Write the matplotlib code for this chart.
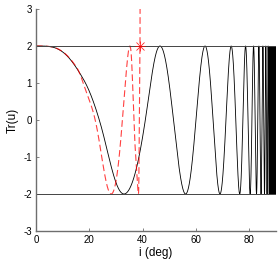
import numpy as np
import matplotlib
matplotlib.use("Agg")
import matplotlib.pyplot as plt

plt.rcParams['font.family'] = ['Liberation Sans', 'DejaVu Sans']
plt.rcParams['axes.unicode_minus'] = False

# black curve: angle (deg) where phase = n*pi
black_i = [0, 17.6, 24.0, 33.0, 41.0, 46.5, 56.1, 63.4, 69.0, 73.2, 76.4, 78.6, 80.3,
           81.6, 82.7, 83.6, 84.4, 85.1, 85.7, 86.2, 86.65, 87.05, 87.4]
black_n = [0, 0.31, 0.51, 1, 1.5, 2, 3, 4, 5, 6, 7, 8, 9,
           10, 11, 12, 13, 14, 15, 16, 17, 18, 19]
# region near 90 deg where the oscillation is a solid black band
dense_i = [87.4, 90.0]

# red dashed curve, same idea, ends at the marked angle then shoots up
red_i = [0, 15.3, 18.4, 22.2, 28.2, 32.4, 35.2, 36.7, 38.4, 38.75, 39.0]
red_n = [0, 0.25, 0.36, 0.5, 1, 1.5, 2, 2.5, 3, 3.5, 4]
red_tail_i = [39.0, 39.05]
red_tail_tr = [2.0, 3.5]

star_i = 39.0
star_tr = 2.0
levels = [2, -2]


def pchip(xk, yk, x):
    xk = np.asarray(xk, float)
    yk = np.asarray(yk, float)
    h = np.diff(xk)
    dl = np.diff(yk) / h
    d = np.zeros_like(yk)
    for k in range(1, len(xk) - 1):
        if dl[k - 1] * dl[k] > 0:
            w1 = 2 * h[k] + h[k - 1]
            w2 = h[k] + 2 * h[k - 1]
            d[k] = (w1 + w2) / (w1 / dl[k - 1] + w2 / dl[k])
    d[0] = 0.0
    d[-1] = dl[-1]
    idx = np.clip(np.searchsorted(xk, x) - 1, 0, len(h) - 1)
    t = (x - xk[idx]) / h[idx]
    h00 = 2 * t**3 - 3 * t**2 + 1
    h10 = t**3 - 2 * t**2 + t
    h01 = -2 * t**3 + 3 * t**2
    h11 = t**3 - t**2
    return (h00 * yk[idx] + h10 * h[idx] * d[idx] +
            h01 * yk[idx + 1] + h11 * h[idx] * d[idx + 1])


fig = plt.figure(figsize=(2.8, 2.61), dpi=100)
ax = fig.add_axes([0.1286, 0.115, 0.857, 0.8505])

xb = np.linspace(black_i[0], black_i[-1], 30000)
yb = 2 * np.cos(np.pi * pchip(black_i, black_n, xb))
ax.plot(xb, yb, color='black', lw=0.6)
ax.fill_between(dense_i, -2, 2, color='black', lw=0)

xr = np.linspace(red_i[0], red_i[-1], 3000)
yr = 2 * np.cos(np.pi * pchip(red_i, red_n, xr))
xr = np.concatenate([xr, red_tail_i[1:]])
yr = np.concatenate([yr, red_tail_tr[1:]])
ax.plot(xr, yr, color='red', lw=0.8, dashes=(6, 3), alpha=0.75)

for lv in levels:
    ax.axhline(lv, color='#444444', lw=0.7)

ax.plot(star_i, star_tr, marker='x', color='red', ms=5.5, mew=0.6, alpha=0.85)
ax.plot(star_i, star_tr, marker='+', color='red', ms=6.5, mew=0.6, alpha=0.85)

ax.set_xlim(0, 90)
ax.set_ylim(-3, 3)
ax.set_xticks([0, 20, 40, 60, 80])
ax.set_yticks([-3, -2, -1, 0, 1, 2, 3])
ax.spines['top'].set_visible(False)
ax.spines['right'].set_visible(False)
for s in ['left', 'bottom']:
    ax.spines[s].set_color('#6e6e6e')
    ax.spines[s].set_linewidth(1.0)
ax.tick_params(direction='in', length=2.5, width=0.6, colors='#6e6e6e',
               labelcolor='black', labelsize=7, pad=3)
ax.set_xlabel('i (deg)', fontsize=8.5, labelpad=1)
ax.set_ylabel('Tr(u)', fontsize=8.5, labelpad=3)

fig.savefig('out.png', dpi=100)
